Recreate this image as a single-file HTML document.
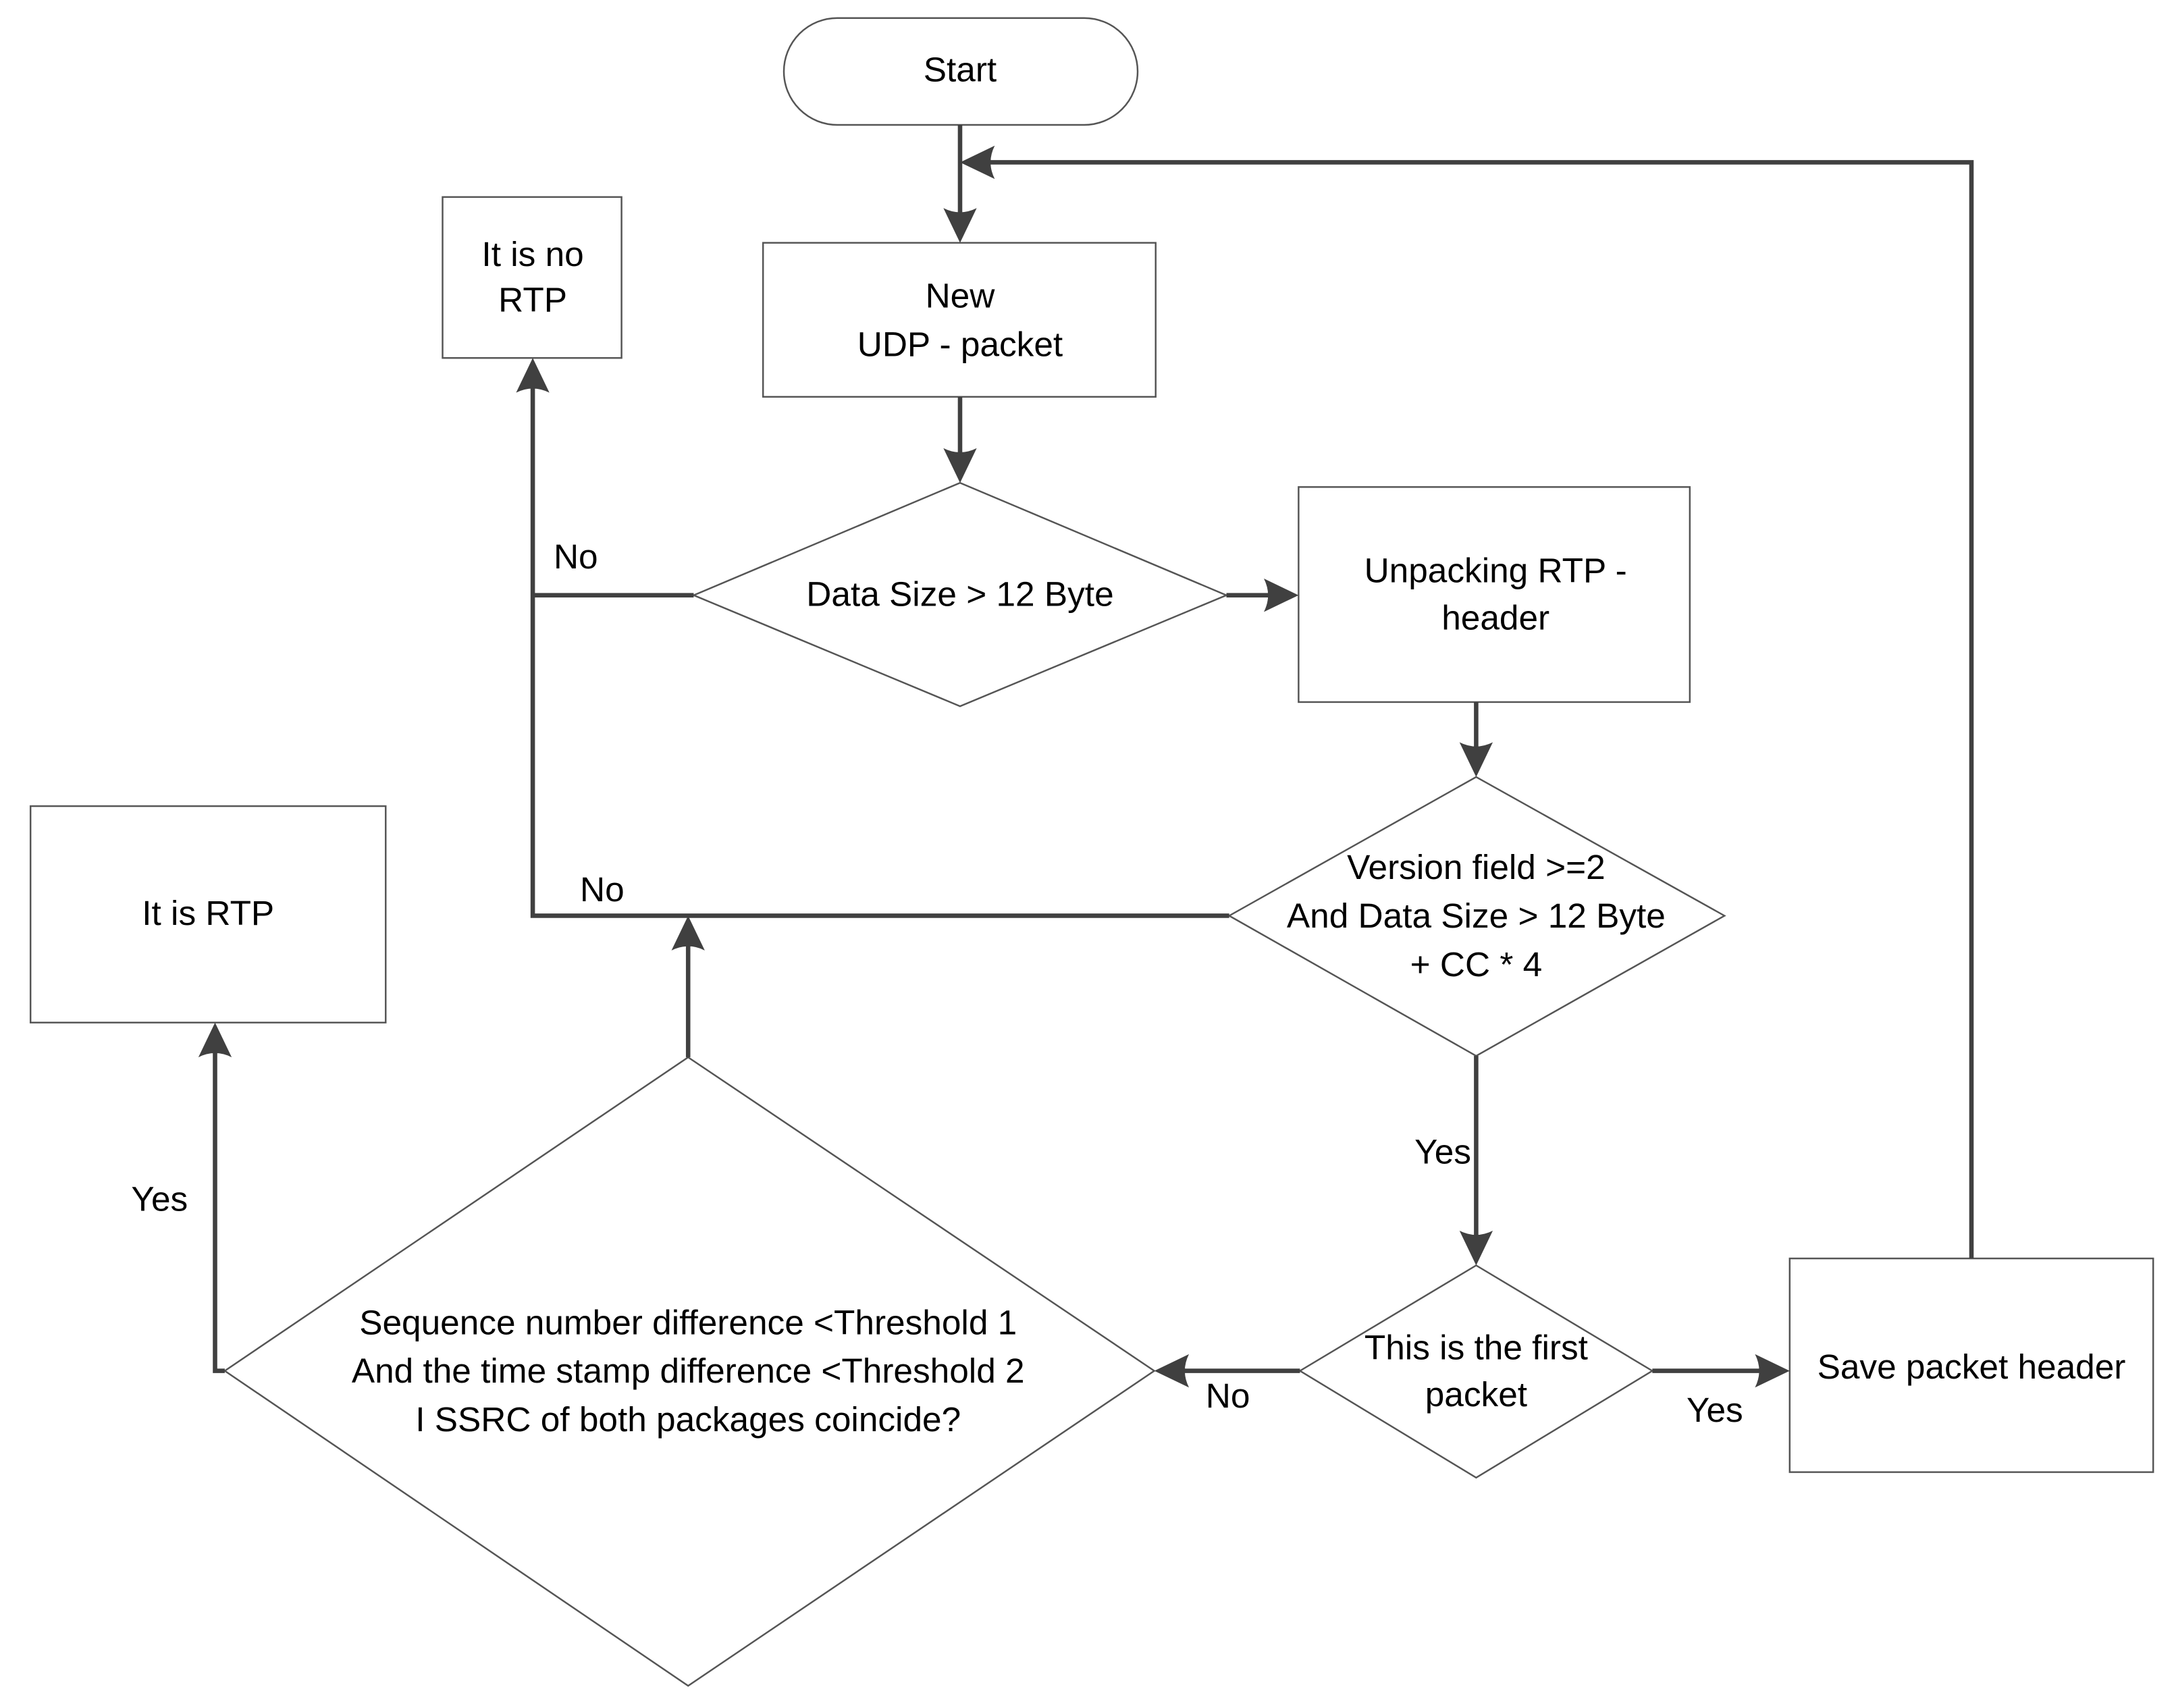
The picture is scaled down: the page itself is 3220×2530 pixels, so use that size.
<!DOCTYPE html>
<html><head><meta charset="utf-8"><style>
html,body{margin:0;padding:0;background:#fff}
svg{display:block}
text{font-family:"Liberation Sans",sans-serif;font-size:25px;fill:#000;text-anchor:middle;dominant-baseline:middle}
</style></head><body>
<svg width="3220" height="2530" viewBox="0 0 1567 1231" preserveAspectRatio="none" xmlns="http://www.w3.org/2000/svg">
<g fill="none" stroke="#555" stroke-width="1.2">
<rect x="565" y="13" width="255" height="77" rx="38.5"/>
<rect x="550" y="175" width="283" height="111"/>
<polygon points="692,348 884,429 692,509 500,429"/>
<rect x="936" y="351" width="282" height="155"/>
<polygon points="1064,560 1243,660 1064,761 886,660"/>
<rect x="319" y="142" width="129" height="116"/>
<polygon points="1064,912 1191,988 1064,1065 937,988"/>
<rect x="1290" y="907" width="262" height="154"/>
<polygon points="496,762 832,988 496,1215 162,988"/>
<rect x="22" y="581" width="256" height="156"/>
</g>
<g fill="none" stroke="#404040" stroke-width="3.2">
<path d="M692 90 V160"/>
<path d="M1421 907 V117 H706"/>
<path d="M692 286 V334"/>
<path d="M884 429 H922"/>
<path d="M1064 506 V546"/>
<path d="M886 660 H384 V272"/>
<path d="M500 429 H384"/>
<path d="M1064 761 V898"/>
<path d="M1191 988 H1276"/>
<path d="M937 988 H846"/>
<path d="M496 762 V674"/>
<path d="M162 988 H155 V751"/>
</g>
<g fill="#404040">
<path d="M692 175 L680 150 Q692 156 704 150 Z"/>
<path d="M692 348 L680 323 Q692 329 704 323 Z"/>
<path d="M1064 560 L1052 535 Q1064 541 1076 535 Z"/>
<path d="M1064 912 L1052 887 Q1064 893 1076 887 Z"/>
<path d="M692 117 L717 105 Q711 117 717 129 Z"/>
<path d="M832 988 L857 976 Q851 988 857 1000 Z"/>
<path d="M936 429 L911 417 Q917 429 911 441 Z"/>
<path d="M1290 988 L1265 976 Q1271 988 1265 1000 Z"/>
<path d="M384 258 L372 283 Q384 277 396 283 Z"/>
<path d="M496 660 L484 685 Q496 679 508 685 Z"/>
<path d="M155 737 L143 762 Q155 756 167 762 Z"/>
</g>
<text x="692" y="52">Start</text>
<text x="692" y="215">New</text>
<text x="692" y="250">UDP - packet</text>
<text x="692" y="430">Data Size &gt; 12 Byte</text>
<text x="1078" y="413">Unpacking RTP -</text>
<text x="1078" y="447">header</text>
<text x="1064" y="627">Version field &gt;=2</text>
<text x="1064" y="662">And Data Size &gt; 12  Byte</text>
<text x="1064" y="697">+ CC * 4</text>
<text x="384" y="185">It is no</text>
<text x="384" y="218">RTP</text>
<text x="415" y="403">No</text>
<text x="434" y="643">No</text>
<text x="1040" y="832">Yes</text>
<text x="1064" y="973">This is the first</text>
<text x="1064" y="1007">packet</text>
<text x="1236" y="1018">Yes</text>
<text x="1421" y="987">Save packet header</text>
<text x="885" y="1008">No</text>
<text x="496" y="955">Sequence number difference &lt;Threshold 1</text>
<text x="496" y="990">And the time stamp difference &lt;Threshold 2</text>
<text x="496" y="1025">I SSRC of both packages coincide?</text>
<text x="115" y="866">Yes</text>
<text x="150" y="660">It is RTP</text>
</svg>
</body></html>
